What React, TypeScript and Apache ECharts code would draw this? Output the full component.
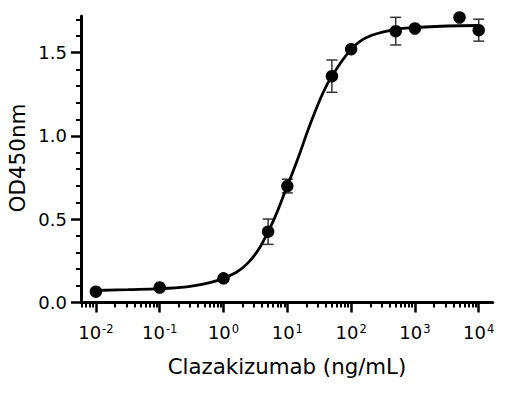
import React, { useEffect, useRef } from "react";
import * as echarts from "echarts";

// Measured data (concentration in ng/mL, OD450nm, SD)
const concentrations = [0.01, 0.1, 1, 5, 10, 50, 100, 500, 1000, 5000, 10000];
const odValues = [0.065, 0.09, 0.145, 0.425, 0.699, 1.359, 1.521, 1.629, 1.645, 1.711, 1.635];
const errValues = [0, 0, 0, 0.076, 0.041, 0.097, 0, 0.083, 0, 0, 0.066];

// Fitted curve: [log10(concentration), OD]
const curveLogX = [-2, -1.5, -1, -0.5, 0, 0.376, 0.69, 1.0, 1.172, 1.339, 1.549, 1.7, 2.0, 2.25, 2.7, 3.0, 3.5, 4.0];
const curveOD = [0.072, 0.077, 0.083, 0.098, 0.145, 0.235, 0.417, 0.699, 0.87, 1.05, 1.25, 1.36, 1.52, 1.593, 1.64, 1.651, 1.66, 1.663];

// Axis ticks
const xMajorExponents = [-2, -1, 0, 1, 2, 3, 4];
const xMinorMultipliers = [2, 3, 4, 5, 6, 7, 8, 9];
const yMajorTicks = [0, 0.5, 1.0, 1.5];
const yMinorTicks = [0.1, 0.2, 0.3, 0.4, 0.6, 0.7, 0.8, 0.9, 1.1, 1.2, 1.3, 1.4, 1.6, 1.7];

const X_MIN = -2.2335;
const X_MAX = 4.219;
const FONT = "DejaVu Sans";

export default function App() {
  const ref = useRef<HTMLDivElement>(null);

  useEffect(() => {
    if (!ref.current) return;
    const chart = echarts.init(ref.current, undefined, { renderer: "svg" });

    const xMinor: number[] = [];
    for (let e = -3; e <= 4; e++) {
      for (const m of xMinorMultipliers) {
        const v = Math.log10(m) + e;
        if (v > X_MIN && v < X_MAX) xMinor.push(v);
      }
    }

    const points = concentrations.map((c, i) => [Math.log10(c), odValues[i]]);
    const errData = concentrations.map((c, i) => [Math.log10(c), odValues[i], errValues[i]]).filter((d) => d[2] > 0);
    const curve = curveLogX.map((x, i) => [x, curveOD[i]]);

    const option: any = {
      animation: false,
      backgroundColor: "#ffffff",
      grid: { left: 81, right: 29.3, top: 16, bottom: 90.5, containLabel: false },
      xAxis: [
        {
          type: "value",
          min: X_MIN,
          max: X_MAX,
          position: "bottom",
          axisLine: { show: true, onZero: false, lineStyle: { color: "#000", width: 3 } },
          axisTick: { show: true, length: 10, lineStyle: { color: "#000", width: 2.5 }, customValues: xMajorExponents },
          axisLabel: {
            show: true,
            customValues: xMajorExponents,
            margin: 20,
            formatter: (v: number) => `{b|10}{s|${Math.round(v)}}`,
            rich: {
              b: { fontFamily: FONT, fontSize: 18, color: "#000", lineHeight: 20 },
              s: { fontFamily: FONT, fontSize: 11.5, color: "#000", lineHeight: 12, padding: [0, 0, 8, 1] },
            },
          },
          splitLine: { show: false },
        },
        {
          type: "value",
          min: X_MIN,
          max: X_MAX,
          position: "bottom",
          axisLine: { show: false, onZero: false },
          axisTick: { show: true, length: 5, lineStyle: { color: "#000", width: 2 }, customValues: xMinor },
          axisLabel: { show: false },
          splitLine: { show: false },
        },
      ],
      yAxis: [
        {
          type: "value",
          min: 0,
          max: 1.72,
          position: "left",
          axisLine: { show: true, onZero: false, lineStyle: { color: "#000", width: 3 } },
          axisTick: { show: true, length: 10, lineStyle: { color: "#000", width: 2.5 }, customValues: yMajorTicks },
          axisLabel: {
            show: true,
            customValues: yMajorTicks,
            margin: 14,
            fontFamily: FONT,
            fontSize: 18,
            color: "#000",
            formatter: (v: number) => v.toFixed(1),
          },
          splitLine: { show: false },
        },
        {
          type: "value",
          min: 0,
          max: 1.72,
          position: "left",
          axisLine: { show: false, onZero: false },
          axisTick: { show: true, length: 5, lineStyle: { color: "#000", width: 2 }, customValues: yMinorTicks },
          axisLabel: { show: false },
          splitLine: { show: false },
        },
      ],
      graphic: [
        {
          type: "text",
          x: 17.5,
          y: 158,
          rotation: Math.PI / 2,
          style: {
            text: "OD450nm",
            fontFamily: FONT,
            fontSize: 21.5,
            fill: "#000",
            align: "center",
            verticalAlign: "middle",
          },
        },
        {
          type: "text",
          x: 287,
          y: 366,
          style: {
            text: "Clazakizumab (ng/mL)",
            fontFamily: FONT,
            fontSize: 21.3,
            fill: "#000",
            align: "center",
            verticalAlign: "middle",
          },
        },
      ],
      series: [
        {
          type: "custom",
          xAxisIndex: 0,
          yAxisIndex: 0,
          z: 1,
          data: errData,
          renderItem: (params: any, api: any) => {
            const x = api.value(0);
            const y = api.value(1);
            const e = api.value(2);
            const top = api.coord([x, y + e]);
            const bot = api.coord([x, y - e]);
            const hw = 5.5;
            const style = { stroke: "#333", lineWidth: 1.5 };
            return {
              type: "group",
              children: [
                { type: "line", shape: { x1: top[0], y1: top[1], x2: bot[0], y2: bot[1] }, style },
                { type: "line", shape: { x1: top[0] - hw, y1: top[1], x2: top[0] + hw, y2: top[1] }, style },
                { type: "line", shape: { x1: bot[0] - hw, y1: bot[1], x2: bot[0] + hw, y2: bot[1] }, style },
              ],
            };
          },
        },
        {
          type: "line",
          xAxisIndex: 0,
          yAxisIndex: 0,
          z: 2,
          data: curve,
          smooth: 0.4,
          showSymbol: false,
          symbol: "none",
          lineStyle: { color: "#000", width: 2.8 },
        },
        {
          type: "scatter",
          xAxisIndex: 0,
          yAxisIndex: 0,
          z: 3,
          data: points,
          symbol: "circle",
          symbolSize: 12.5,
          itemStyle: { color: "#050505", opacity: 1 },
        },
      ],
    };

    chart.setOption(option);
    return () => chart.dispose();
  }, []);

  return <div ref={ref} style={{ position: "fixed", left: 0, top: 0, width: 522, height: 393 }} />;
}
